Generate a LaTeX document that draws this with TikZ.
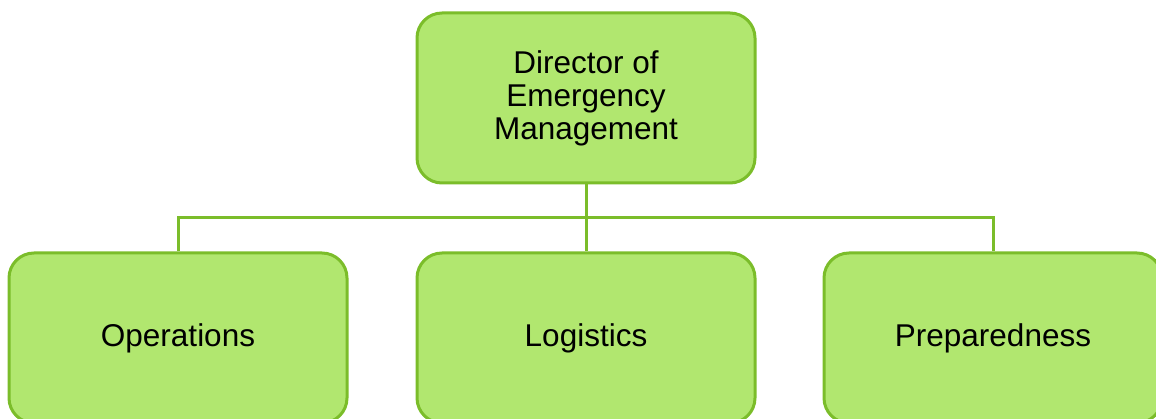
\documentclass[tikz,border=0pt]{standalone}
\usepackage{fontspec}
\setmainfont{Liberation Sans}
\usetikzlibrary{backgrounds}
\definecolor{boxfill}{HTML}{B1E76F}
\definecolor{boxline}{HTML}{7BBD2A}
\begin{document}
\begin{tikzpicture}[x=1pt,y=1pt,
  orgbox/.style={draw=boxline, fill=boxfill, line width=3pt, rounded corners=25pt,
    minimum width=338pt, minimum height=170pt, inner sep=0pt, align=center,
    font=\fontsize{31.5}{33}\selectfont, text=black},
  conn/.style={draw=boxline, line width=3pt}]
\useasboundingbox (0,0) rectangle (1156,-419);
\clip (0,0) rectangle (1156,-419);
\node[orgbox] (dir) at (586,-98) {Director of\\Emergency\\Management};
\node[orgbox] (ops) at (178,-338) {Operations};
\node[orgbox] (log) at (586,-338) {Logistics};
\node[orgbox] (prep) at (993,-338) {Preparedness};
\coordinate (bar) at (586,-218);
\begin{scope}[on background layer]
\draw[conn] (dir.south) -- (log.north);
\draw[conn] (ops.north) |- (bar) -| (prep.north);
\end{scope}
\end{tikzpicture}
\end{document}
